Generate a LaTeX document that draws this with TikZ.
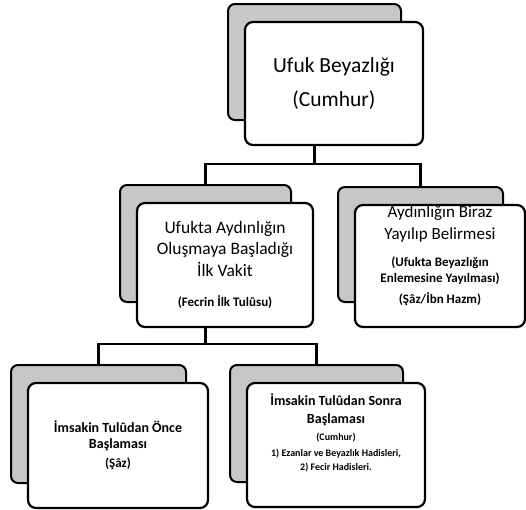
\documentclass[tikz,border=0pt]{standalone}
\usepackage{fontspec}
\setmainfont{Carlito}
\tikzset{
    arkakart/.style={draw=black, fill=black!22, line width=2pt, rounded corners=7pt, inner sep=0pt},
    onkart/.style={draw=black, fill=white, line width=2.2pt, rounded corners=8pt, align=center, inner sep=0pt},
    hat/.style={draw=black, line width=2.4pt}
}
\newcommand{\kart}[6][]{
    \node[arkakart, minimum width=#4pt-5pt, minimum height=#5pt-7pt, xshift=-19.5pt, yshift=21.5pt] (#3-arka) at (#2) {};
    \node[onkart, minimum width=#4pt, minimum height=#5pt, #1] (#3) at (#2) {#6};
}
\newcommand{\kucuk}[1]{{\fontsize{13}{15}\bfseries\selectfont #1}}
\newcommand{\ufacik}[1]{{\fontsize{10}{12}\bfseries\selectfont #1}}

\begin{document}
\begin{tikzpicture}[x=1pt, y=-1pt]
	\useasboundingbox (0,0) rectangle (526,509);

	\kart[font=\fontsize{21.5}{34}\selectfont]{334,83.5}{ufuk}{178}{123}{Ufuk Beyazlığı\\(Cumhur)};
	\kart[font=\fontsize{17.5}{21.5}\selectfont]{225,265}{aydin}{176}{124}{Ufukta Aydınlığın\\Oluşmaya Başladığı\\İlk Vakit\\[9pt]\kucuk{(Fecrin İlk Tulûsu)}};
	\kart[font=\fontsize{17}{22}\selectfont, text depth=22pt]{440,266}{yayil}{170}{122}{Aydınlığın Biraz\\Yayılıp Belirmesi\\[5pt]\kucuk{(Ufukta Beyazlığın}\\[-6pt]\kucuk{Enlemesine Yayılması)}\\[-1pt]\kucuk{(Şâz/İbn Hazm)}};
	\kart[font=\fontsize{14}{16}\bfseries\selectfont]{118,445.5}{once}{180}{125}{İmsakin Tulûdan Önce\\Başlaması\\[3pt]\kucuk{(Şâz)}};
	\kart[font=\fontsize{14}{18}\bfseries\selectfont, text depth=26pt]{336,445}{sonra}{178}{124}{İmsakin Tulûdan Sonra\\Başlaması\\[-1pt]\ufacik{(Cumhur)}\\[-2pt]\ufacik{1) Ezanlar ve Beyazlık Hadisleri,}\\[-4pt]\ufacik{2) Fecir Hadisleri.}};

	% ust seviye baglantilar
	\draw[hat] (ufuk-arka |- ufuk.south) -- ++(0,18) -| (aydin-arka.north);
	\draw[hat] (ufuk-arka |- ufuk.south) -- ++(0,18) -| (yayil-arka.north);
	% alt seviye baglantilar
	\draw[hat] (aydin-arka |- aydin.south) -- ++(0,16) -| (once-arka.north);
	\draw[hat] (aydin-arka |- aydin.south) -- ++(0,16) -| (sonra-arka.north);
\end{tikzpicture}
\end{document}
